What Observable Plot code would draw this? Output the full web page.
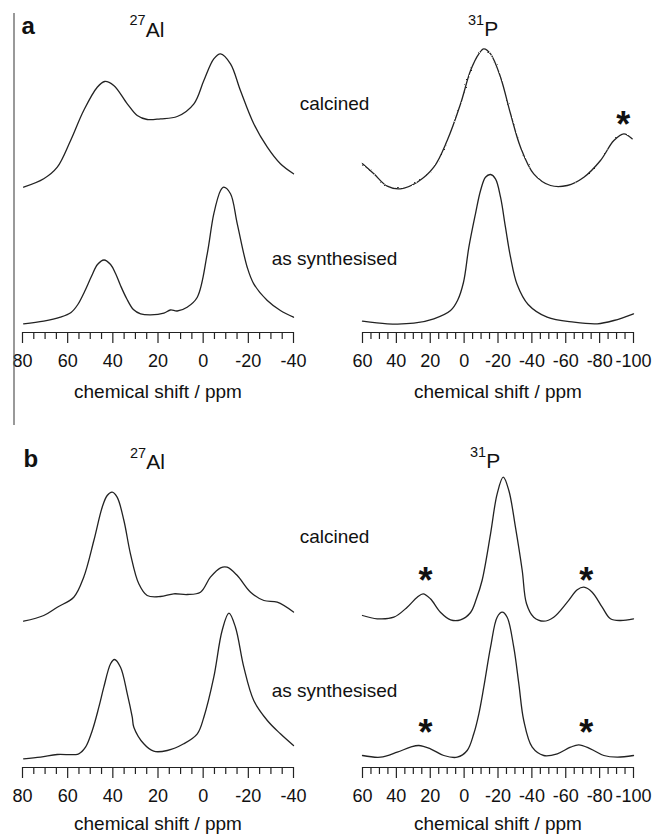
<!DOCTYPE html>
<html>
<head>
<meta charset="utf-8">
<script src="https://cdn.jsdelivr.net/npm/d3@7"></script>
<script src="https://cdn.jsdelivr.net/npm/@observablehq/plot@0.6"></script>
<style>
  body { margin: 0; background: #fff; }
  #fig { position: relative; width: 654px; height: 834px; font-family: "Liberation Sans", Arial, Helvetica, sans-serif; }
  #fig svg { position: absolute; }
</style>
</head>
<body>
<div id="fig"></div>
<script>
// MAS NMR spectra: [chemical shift (ppm), intensity (a.u.)]
// Panel a
const alCalcinedA = [[79.5,5.3],[70.6,13.7],[64.6,25.3],[58.7,52],[52.9,82],[46.9,105.3],[43.6,111],[39.6,107],[33.6,88.7],[29.2,77],[24.8,73],[18.9,73.7],[11.5,76],[4.1,88.7],[-0.3,112],[-4.7,133.7],[-7.7,138.7],[-12.1,128.7],[-16.5,102],[-22.4,68.7],[-28.4,45.3],[-34.2,28.7],[-40,18.7]];
const alSynthA = [[79.5,8.7],[70.6,11.3],[63.2,15.3],[58.5,20],[55.5,28],[52.5,41],[49.5,56],[46.8,68],[43.9,72.5],[41,68],[38.8,59],[36.6,47],[33.9,34],[30.9,23],[27.7,18.7],[23.3,17.7],[17.4,19.3],[14.5,22.5],[11.5,21.5],[7.1,25.3],[2.6,35.3],[-1.8,78.7],[-4.7,118.7],[-7.7,142],[-9.1,145.3],[-12.1,138.7],[-15.1,108.7],[-19.5,65.3],[-22.4,48.7],[-28.4,32],[-34.2,22],[-40,15.3]];
const pCalcinedA = [[60,28.7],[53.3,18.7],[45.4,6.3],[37.6,3.7],[27.7,10.3],[17.9,25.3],[10,52],[2.1,88.7],[-3.8,122],[-8.7,138.7],[-11.6,143.7],[-15.6,138.7],[-21.5,115.3],[-27.4,78.7],[-33.3,45.3],[-41.1,18.7],[-51,7],[-60.9,7],[-70.7,15.3],[-80.5,32],[-88.4,52],[-94.3,58.7],[-99.2,53.7]];
const pSynthA = [[60,11.3],[45.4,8.7],[29.7,9.3],[17.9,13.7],[8,22],[3.9,32],[0.4,50],[-2.8,85.3],[-6.7,118.7],[-9.7,142],[-12.6,155.3],[-15.6,158],[-18.5,153.7],[-21.5,135.3],[-24.4,105.3],[-27.4,75.3],[-31.3,48],[-37.8,28],[-49,15.3],[-64.8,10.3],[-78.6,8.7],[-88.4,12],[-100,18.7]];
// Panel b
const alCalcinedB = [[79.5,6.3],[70.6,12],[64.6,20.3],[57.3,30.3],[52.9,50.3],[48.4,87],[44.7,120.3],[42.5,132],[40.3,135.3],[38.1,130.3],[35.1,107],[32.2,73.7],[28.5,43.7],[24.8,32],[18.9,31],[13,33.7],[7.1,33],[1.2,35.3],[-3.2,50.3],[-7.7,59.7],[-10.6,60.3],[-15.1,52],[-21,35.3],[-26.9,27],[-32.8,25.3],[-40,15.5]];
const alSynthB = [[79.5,8.7],[72,10.3],[64.6,13],[55.1,13.7],[52.1,20.3],[49.1,37],[46.2,60.3],[44,80.3],[41,103.7],[39.3,108],[36.6,100.3],[33.6,73.7],[31.4,50.3],[30.7,40.3],[26.3,23.7],[21.9,16.3],[15.9,17],[8.6,23.7],[2.6,33.7],[-0.3,50.3],[-4.7,90.3],[-8.4,137],[-11.4,154.3],[-14.3,140.3],[-18,100.3],[-22.4,67],[-28.4,47],[-34.2,33.7],[-40,22]];
const pCalcinedB = [[60,12],[51.3,8.7],[41.5,10.3],[33.6,20.3],[27.7,30.3],[24.2,33.7],[19.9,28.7],[14,15.3],[8,7.7],[2.1,7.7],[-3.8,15],[-7.3,29],[-10.6,47],[-15.6,93.7],[-19.5,133.7],[-23.1,150.3],[-26.4,137],[-30.3,100.3],[-34.3,57],[-36.8,24],[-41.1,10.3],[-47,6.3],[-52.9,10.3],[-60.9,25.3],[-66.8,37.7],[-70.7,40.3],[-75.6,35.3],[-81.5,20.3],[-86.4,8.7],[-92.3,7],[-100,8.7]];
const pSynthB = [[60,12],[49.4,10.3],[39.5,15.3],[31.7,20.3],[26.8,22],[19.9,18.7],[12,12],[4.1,10.3],[-1.8,17],[-5.7,33.7],[-8.7,53.7],[-11.6,80.3],[-15.6,120.3],[-19.5,150.3],[-22.5,155.3],[-25.4,150.3],[-29.3,120.3],[-32.3,83.7],[-35.2,47],[-40.2,20.3],[-47,12],[-55,13.7],[-62.8,20.3],[-67.7,22.7],[-74.6,18.7],[-82.5,12],[-90.4,10.3],[-100,12]];

// Spinning sidebands (marked with *): [ppm, intensity]
const sidebandsCalcinedA = [[-94,77]];
const sidebandsCalcinedB = [[22.8,55.3],[-72.1,55.3]];
const sidebandsSynthB = [[22.8,43.7],[-72.1,43.7]];

// Axis ticks
const alTicks = [80, 60, 40, 20, 0, -20, -40];
const pTicks = [60, 40, 20, 0, -20, -40, -60, -80, -100];
const axisTitle = "chemical shift / ppm";

// Vertical stacking of the two samples
const calcinedOffset = 140;
const synthOffset = 0;

const INK = "#222";
const FONT = "'Liberation Sans', Arial, Helvetica, sans-serif";

const fig = document.getElementById("fig");

function rows(pairs, offset) {
  return pairs.map(([ppm, v]) => ({ppm, y: v + offset}));
}

function spectrumPlot({left, top, width, height, margins, xDomain, yMax, ticks, spectra, sidebands, titleDy}) {
  const [mt, mr, mb, ml] = margins;
  const minor = d3.range(xDomain[0], xDomain[1] - 0.1, -5).filter(d => d % 20 !== 0);
  const svg = Plot.plot({
    width, height,
    marginTop: mt, marginRight: mr, marginBottom: mb, marginLeft: ml,
    x: {domain: xDomain, label: null, axis: null},
    y: {domain: [0, yMax], label: null, axis: null},
    style: {background: "none", overflow: "visible", fontFamily: FONT, color: INK},
    marks: [
      Plot.ruleY([0], {stroke: INK, strokeWidth: 1.2}),
      Plot.axisX({ticks: minor, tickSize: 7, tickFormat: () => "", strokeWidth: 1.2, stroke: INK, label: null}),
      Plot.axisX({ticks, tickSize: 11, tickPadding: 11, tickFormat: d => String(d), fontSize: 18, strokeWidth: 1.2, stroke: INK, fill: "#111", label: null}),
      Plot.text([axisTitle], {frameAnchor: "bottom", dy: titleDy, lineAnchor: "bottom", fontSize: 19, fill: "#111"}),
      ...spectra.map(d => Plot.line(d, {x: "ppm", y: "y", curve: "catmull-rom", stroke: INK, strokeWidth: 1.3})),
      Plot.text(sidebands, {x: "ppm", y: "y", text: () => "*", fontSize: 36, fontWeight: "bold", lineAnchor: "bottom", dy: 21, fill: "#111"})
    ]
  });
  svg.style.left = left + "px";
  svg.style.top = top + "px";
  fig.appendChild(svg);
  return svg;
}

// Panel a
spectrumPlot({
  left: 0, top: 0, width: 327, height: 415, margins: [12, 34, 83, 22],
  xDomain: [80, -40], yMax: 320, ticks: alTicks, titleDy: 65,
  spectra: [rows(alCalcinedA, calcinedOffset), rows(alSynthA, synthOffset)],
  sidebands: []
});
const pPanelA = spectrumPlot({
  left: 327, top: 0, width: 327, height: 415, margins: [12, 21, 83, 35],
  xDomain: [60, -100], yMax: 320, ticks: pTicks, titleDy: 65,
  spectra: [rows(pCalcinedA, calcinedOffset), rows(pSynthA, synthOffset)],
  sidebands: rows(sidebandsCalcinedA, calcinedOffset)
});
// Panel b
spectrumPlot({
  left: 0, top: 420, width: 327, height: 414, margins: [12, 34, 67, 22],
  xDomain: [80, -40], yMax: 335, ticks: alTicks, titleDy: 62,
  spectra: [rows(alCalcinedB, calcinedOffset), rows(alSynthB, synthOffset)],
  sidebands: []
});
spectrumPlot({
  left: 327, top: 420, width: 327, height: 414, margins: [12, 21, 67, 35],
  xDomain: [60, -100], yMax: 335, ticks: pTicks, titleDy: 62,
  spectra: [rows(pCalcinedB, calcinedOffset), rows(pSynthB, synthOffset)],
  sidebands: [...rows(sidebandsCalcinedB, calcinedOffset), ...rows(sidebandsSynthB, synthOffset)]
});

// Panel letters, nucleus and sample labels
const notes = d3.select(fig).append("svg")
  .attr("width", 654).attr("height", 834)
  .style("left", "0px").style("top", "0px")
  .style("font-family", FONT).attr("fill", "#111");

// Acquisition noise texture for the calcined 31P trace of panel a
const noise = notes.append("defs").append("filter").attr("id", "acq-noise")
  .attr("x", "-5%").attr("y", "-10%").attr("width", "110%").attr("height", "120%");
noise.append("feTurbulence").attr("type", "fractalNoise").attr("baseFrequency", 0.6)
  .attr("numOctaves", 1).attr("seed", 3).attr("result", "n");
noise.append("feDisplacementMap").attr("in", "SourceGraphic").attr("in2", "n")
  .attr("scale", 2.2).attr("xChannelSelector", "R").attr("yChannelSelector", "G");
d3.select(pPanelA).select("g[aria-label=line] path").attr("filter", "url(#acq-noise)");

notes.append("line").attr("x1", 14).attr("x2", 14).attr("y1", 13).attr("y2", 425)
  .attr("stroke", "#555").attr("stroke-width", 1.2);

const letters = [{t: "a", x: 21.5, y: 34}, {t: "b", x: 23.5, y: 467}];
notes.selectAll("text.letter").data(letters).join("text")
  .attr("x", d => d.x).attr("y", d => d.y)
  .attr("font-size", 24).attr("font-weight", "bold").text(d => d.t);

const nuclei = [
  {mass: "27", el: "Al", x: 129.5, y: 36.5},
  {mass: "31", el: "P", x: 468, y: 36},
  {mass: "27", el: "Al", x: 130, y: 469},
  {mass: "31", el: "P", x: 470, y: 468}
];
const nt = notes.selectAll("text.nuc").data(nuclei).join("text")
  .attr("x", d => d.x).attr("y", d => d.y);
nt.append("tspan").attr("font-size", 14.5).attr("dy", -11.5).text(d => d.mass);
nt.append("tspan").attr("font-size", 21).attr("dy", 11.5).text(d => d.el);

const samples = [
  {t: "calcined", y: 110}, {t: "as synthesised", y: 265},
  {t: "calcined", y: 543}, {t: "as synthesised", y: 697}
];
notes.selectAll("text.sample").data(samples).join("text")
  .attr("x", 334.5).attr("y", d => d.y).attr("text-anchor", "middle")
  .attr("font-size", 19).text(d => d.t);
</script>
</body>
</html>
